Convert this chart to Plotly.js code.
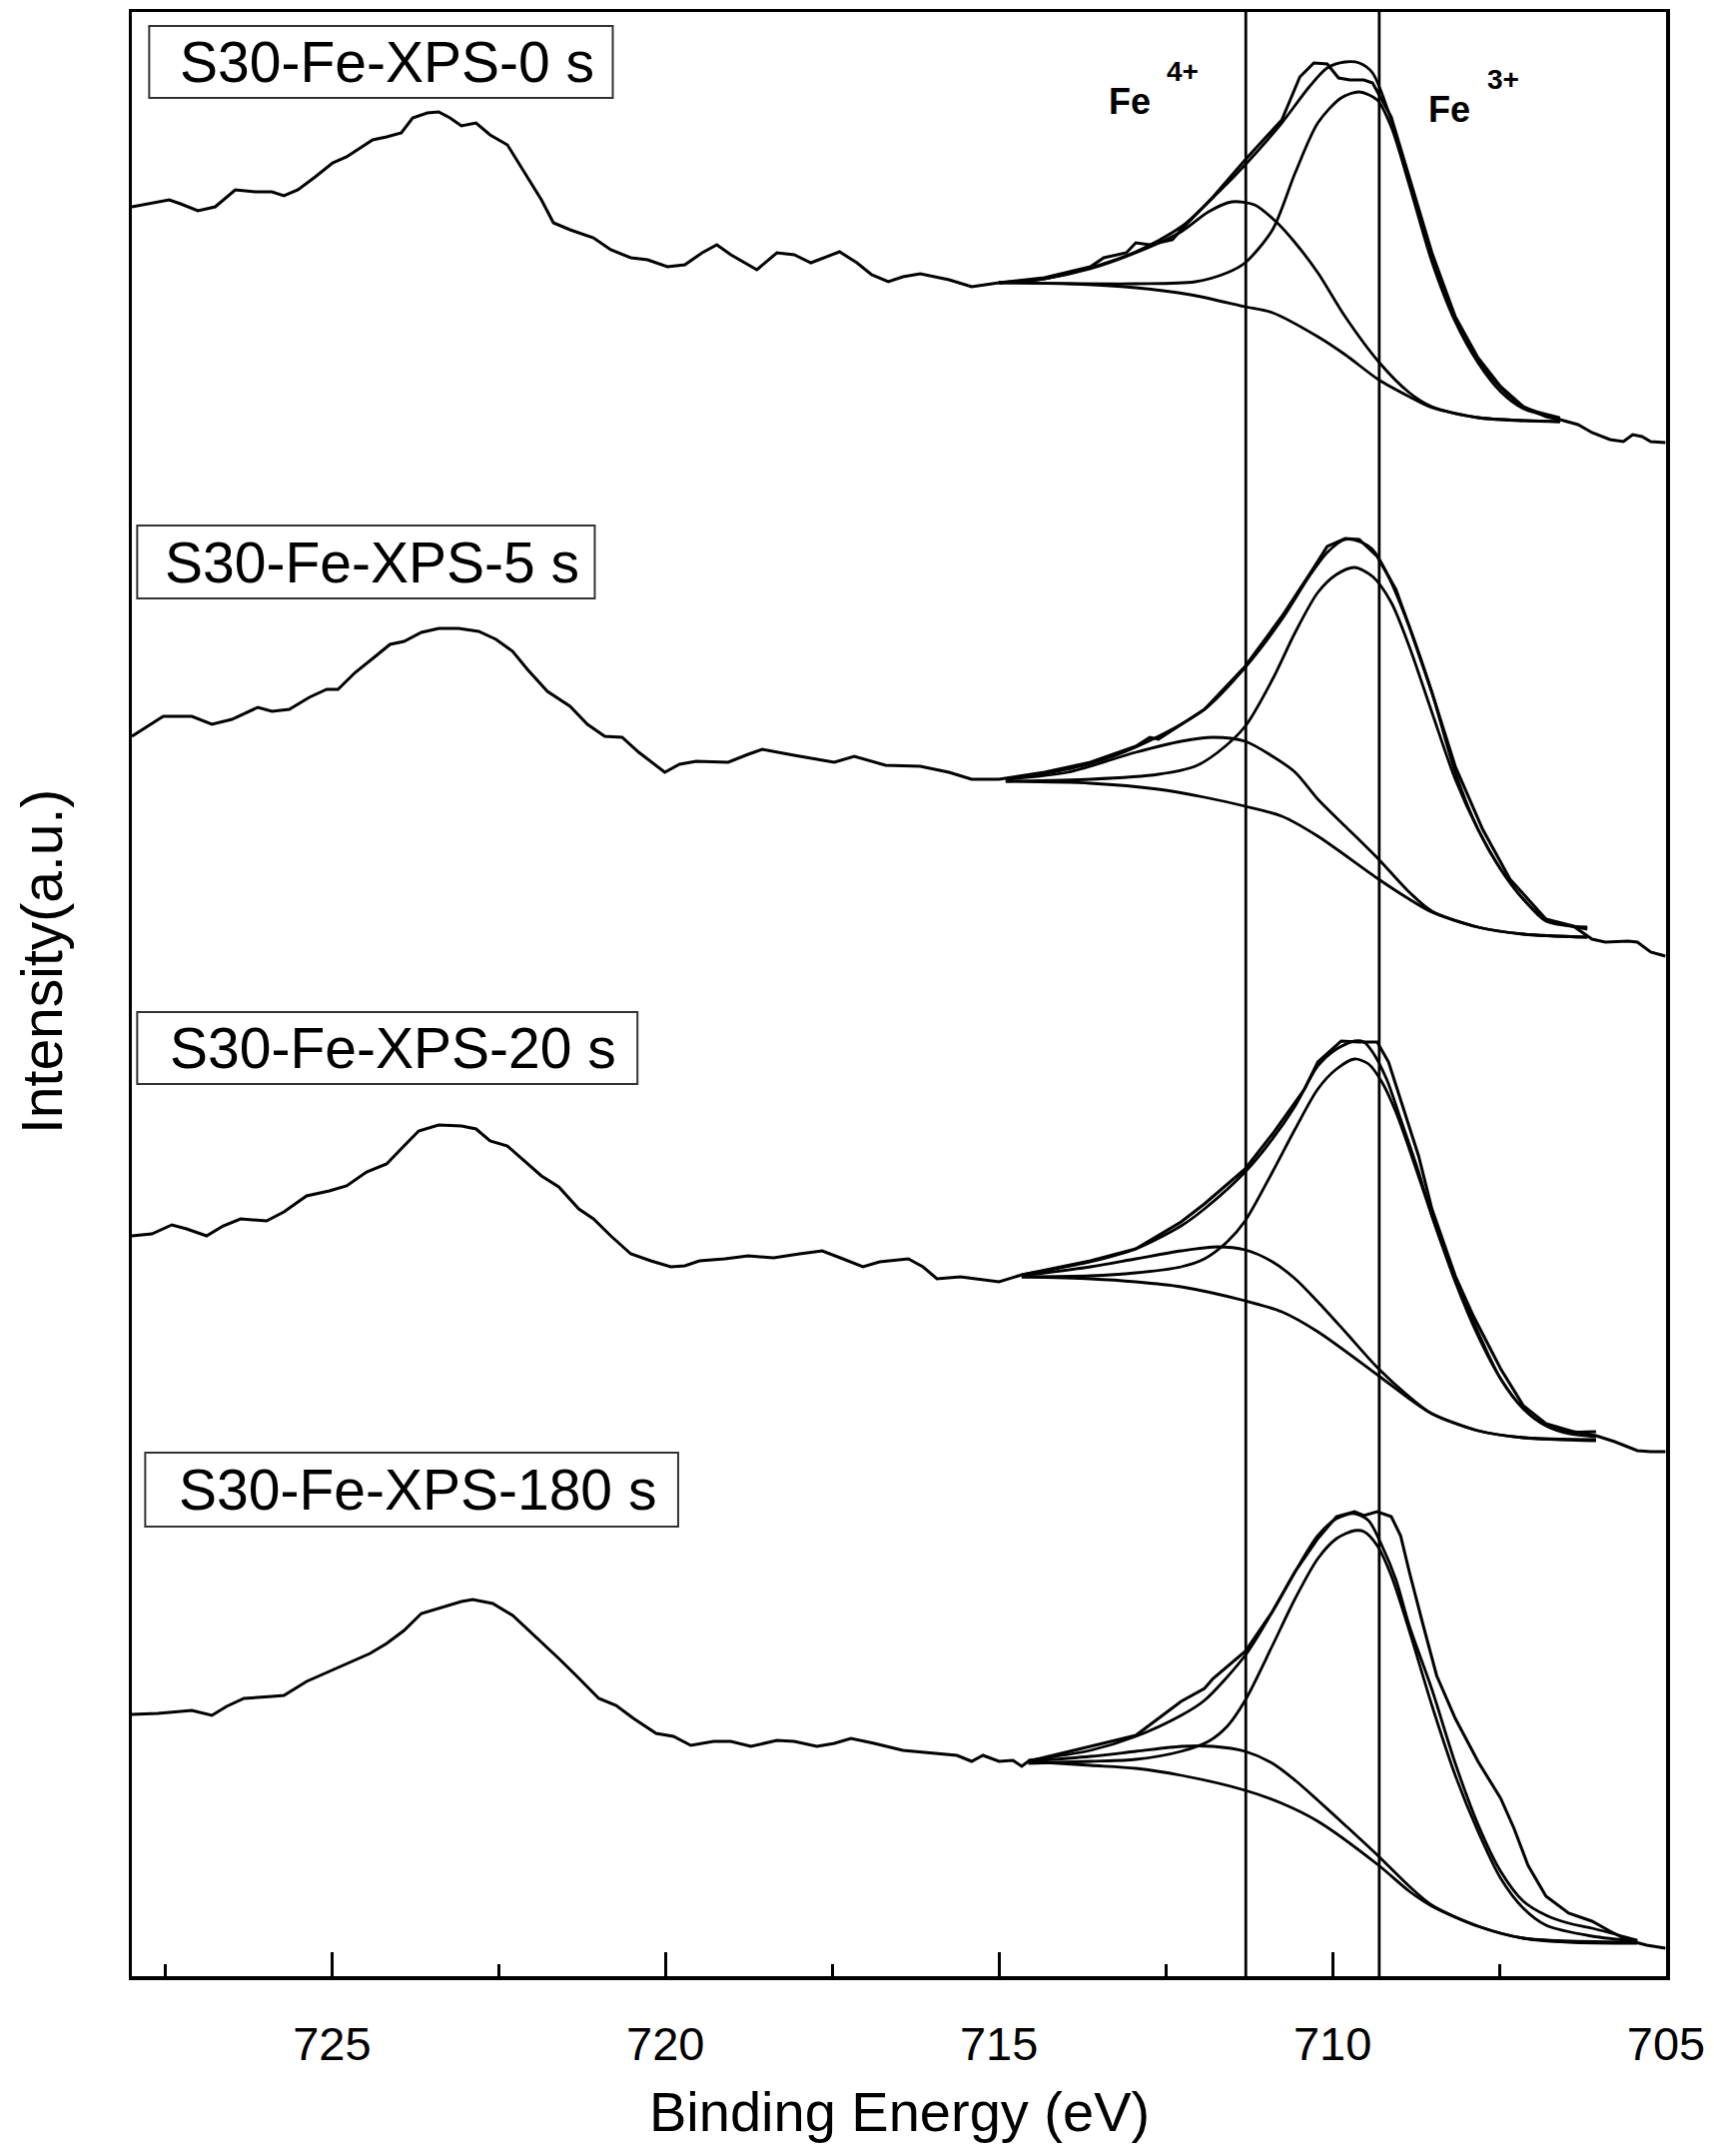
<!DOCTYPE html>
<html>
<head>
<meta charset="utf-8">
<script src="https://cdn.plot.ly/plotly-3.0.1.min.js"></script>
<style>html,body{margin:0;padding:0;background:#fff;}#chart{width:1716px;height:2158px;}</style>
</head>
<body>
<div id="chart"></div>
<script>
// ---------- axis / labels ----------
const tickVals = [725, 720, 715, 710, 705];
const tickText = ['725', '720', '715', '710', '705'];
const minorTickVals = [727.5, 722.5, 717.5, 712.5, 707.5];
const feLines = [711.3, 709.3];
const sampleNames = ['S30-Fe-XPS-0 s', 'S30-Fe-XPS-5 s', 'S30-Fe-XPS-20 s', 'S30-Fe-XPS-180 s'];

// ---------- S30-Fe-XPS-0 s ----------
const s0RawE = [728.00,727.70,727.44,727.27,727.01,726.75,726.63,726.45,726.15,725.90,725.72,725.51,725.25,724.99,724.78,724.39,724.18,723.96,723.79,723.57,723.40,723.23,723.06,722.84,722.63,722.37,722.11,721.86,721.68,721.43,721.08,720.82,720.52,720.27,719.97,719.71,719.45,719.23,719.02,718.63,718.33,718.07,717.82,717.39,717.13,716.91,716.66,716.44,716.18,715.75,715.41,715.00,714.32,713.63,713.43,713.09,712.95,712.74,712.40,712.27,711.79,711.31,710.76,710.49,710.28,710.08,709.91,709.74,709.53,709.40,709.12,708.85,708.51,708.16,707.82,707.48,707.14,706.80,706.59,706.32,706.11,705.84,705.64,705.50,705.36,705.23,705.01];
const s0RawI = [1771,1775,1778,1774,1767,1771,1778,1788,1786,1786,1782,1788,1801,1815,1821,1838,1841,1845,1860,1865,1866,1860,1852,1855,1843,1833,1805,1778,1755,1748,1740,1728,1720,1718,1711,1713,1725,1733,1723,1708,1725,1723,1715,1726,1715,1703,1696,1701,1704,1698,1691,1695,1700,1711,1720,1725,1735,1733,1738,1748,1781,1818,1858,1901,1915,1914,1900,1898,1898,1895,1861,1801,1725,1661,1620,1591,1571,1561,1558,1553,1545,1538,1536,1543,1541,1536,1535];
const s0EnvE = [715.00,714.32,713.63,712.95,712.27,711.72,711.31,710.76,710.35,710.08,709.81,709.60,709.40,709.12,708.85,708.51,708.16,707.82,707.48,707.14,706.59];
const s0EnvI = [1695,1699,1710,1726,1751,1785,1813,1855,1891,1910,1916,1915,1905,1858,1798,1721,1660,1618,1590,1571,1560];
const s0Fe3E = [715.00,712.95,712.06,711.58,711.31,710.90,710.56,710.22,709.87,709.60,709.33,709.12,708.85,708.51,708.16,707.82,707.48,707.14,706.59];
const s0Fe3I = [1695,1694,1696,1705,1715,1748,1805,1855,1880,1886,1878,1851,1793,1716,1656,1615,1586,1569,1559];
const s0Fe4E = [715.00,714.32,713.63,712.95,712.27,711.86,711.51,711.17,710.83,710.56,710.22,709.81,709.31,708.85,708.51,707.82,706.59];
const s0Fe4I = [1695,1699,1709,1725,1746,1766,1776,1773,1755,1735,1705,1661,1616,1585,1571,1560,1556];
const s0BgE = [715.00,713.97,712.95,712.13,711.31,710.90,710.22,709.81,709.31,708.85,708.51,707.82,707.14,706.59];
const s0BgI = [1695,1694,1690,1683,1671,1665,1641,1623,1598,1581,1570,1560,1557,1556];

// ---------- S30-Fe-XPS-5 s ----------
const s1RawE = [728.00,727.83,727.53,727.10,726.80,726.50,726.11,725.90,725.64,725.34,725.08,724.91,724.65,724.35,724.13,723.92,723.66,723.40,723.10,722.80,722.54,722.29,722.07,721.77,721.43,721.17,720.91,720.65,720.40,720.01,719.79,719.54,719.06,718.76,718.55,718.07,717.47,717.17,716.70,716.18,715.75,715.41,715.00,714.32,713.63,712.95,712.74,712.61,711.92,711.31,710.76,710.28,710.08,709.81,709.60,709.33,709.05,708.85,708.51,708.16,707.75,707.34,706.80,706.39,706.11,705.91,705.57,705.43,705.23,705.01];
const s1RawI = [1241,1248,1261,1261,1253,1258,1270,1266,1268,1280,1288,1288,1305,1321,1333,1336,1345,1349,1349,1346,1338,1326,1308,1286,1271,1253,1241,1240,1225,1205,1213,1216,1215,1223,1228,1222,1215,1221,1212,1211,1205,1198,1198,1205,1215,1231,1240,1238,1268,1311,1361,1410,1431,1439,1438,1421,1388,1351,1285,1211,1148,1098,1058,1051,1038,1035,1036,1035,1025,1021];
const s1EnvE = [714.90,713.97,713.29,712.61,711.92,711.31,710.76,710.35,710.08,709.81,709.60,709.40,709.19,708.85,708.51,708.16,707.82,707.48,707.14,706.80,706.18];
const s1EnvI = [1198,1208,1221,1241,1268,1310,1358,1401,1425,1438,1436,1428,1405,1351,1285,1205,1148,1108,1078,1056,1050];
const s1Fe3E = [714.90,713.63,712.61,712.06,711.72,711.31,710.90,710.56,710.22,709.94,709.67,709.40,709.12,708.85,708.51,708.16,707.82,707.48,707.14,706.80,706.18];
const s1Fe3I = [1196,1198,1203,1211,1225,1251,1298,1345,1385,1403,1410,1401,1375,1331,1265,1198,1148,1108,1078,1058,1048];
const s1Fe4E = [714.90,713.97,712.95,712.27,711.79,711.31,710.90,710.56,710.22,709.81,709.31,708.85,708.51,707.82,707.14,706.18];
const s1Fe4I = [1198,1205,1225,1236,1240,1236,1221,1205,1178,1151,1118,1085,1066,1050,1043,1040];
const s1BgE = [714.90,713.63,712.61,711.92,711.31,710.76,710.22,709.31,708.85,708.51,707.82,707.14,706.18];
const s1BgI = [1196,1194,1188,1180,1171,1161,1141,1098,1078,1065,1050,1043,1040];

// ---------- S30-Fe-XPS-20 s ----------
const s2RawE = [728.00,727.70,727.40,727.18,726.88,726.63,726.37,725.98,725.72,725.38,725.04,724.78,724.48,724.18,723.92,723.70,723.40,723.06,722.84,722.63,722.37,722.11,721.86,721.60,721.30,721.08,720.82,720.52,720.22,719.92,719.71,719.49,719.11,718.76,718.38,717.99,717.65,717.34,717.04,716.79,716.36,716.14,715.93,715.58,715.32,715.00,714.66,713.97,713.63,712.95,712.27,711.92,711.31,710.90,710.42,710.22,709.87,709.60,709.33,709.16,708.98,708.71,708.51,708.16,707.89,707.48,707.14,706.80,706.39,706.05,705.77,705.43,705.23,705.01];
const s2RawI = [741,743,752,748,741,751,758,756,765,781,786,791,805,813,831,846,852,851,848,836,831,816,801,790,768,758,741,723,716,710,711,716,718,721,719,723,726,718,710,715,718,710,698,700,698,695,702,711,716,728,755,773,808,843,888,915,936,935,935,915,878,821,768,701,661,608,571,553,545,541,535,526,525,525];
const s2EnvE = [714.66,713.63,712.95,712.27,711.92,711.31,710.90,710.56,710.22,709.94,709.67,709.53,709.40,709.19,708.98,708.71,708.51,708.16,707.82,707.48,707.14,706.80,706.46,706.05];
const s2EnvI = [702,715,728,751,768,805,838,871,911,928,936,935,925,898,858,805,761,698,645,598,568,551,545,545];
const s2Fe3E = [714.66,713.63,712.95,712.27,711.92,711.58,711.31,710.90,710.56,710.22,709.94,709.67,709.46,709.26,709.05,708.85,708.51,708.16,707.82,707.48,707.14,706.80,706.46,706.05];
const s2Fe3I = [700,701,704,710,718,735,756,805,848,888,908,918,913,895,865,828,761,695,641,598,568,551,543,540];
const s2Fe4E = [714.66,713.63,712.95,712.27,711.72,711.31,710.90,710.56,710.22,709.81,709.31,708.85,708.51,707.82,707.14,706.05];
const s2Fe4I = [701,710,718,726,730,727,715,698,675,645,608,580,563,546,539,537];
const s2BgE = [714.66,713.63,712.95,712.27,711.31,710.76,710.22,709.31,708.85,708.51,707.82,707.14,706.05];
const s2BgI = [700,698,695,690,676,665,645,601,578,563,546,539,536];

// ---------- S30-Fe-XPS-180 s ----------
const s3RawE = [728.00,727.61,727.10,726.80,726.58,726.32,725.90,725.72,725.38,725.04,724.69,724.43,724.18,723.92,723.66,723.32,723.06,722.89,722.59,722.29,722.03,721.77,721.60,721.34,721.00,720.74,720.48,720.14,719.88,719.62,719.28,719.02,718.72,718.33,718.07,717.73,717.47,717.22,716.87,716.44,716.01,715.63,715.41,715.24,715.00,714.79,714.66,714.56,713.63,713.15,712.95,712.27,711.92,711.79,711.31,710.90,710.56,710.22,709.94,709.67,709.53,709.33,709.12,708.98,708.85,708.64,708.44,708.16,707.82,707.48,707.28,707.07,706.80,706.46,706.11,705.84,705.57,705.29,705.01];
const s3RawI = [262,263,266,261,270,278,280,281,295,305,316,323,333,346,363,370,375,377,373,361,345,328,318,301,278,271,258,243,240,231,235,235,230,236,235,230,233,238,233,226,223,221,215,221,215,216,210,215,230,238,241,275,288,298,325,365,405,438,460,465,461,465,460,441,405,351,301,258,215,178,148,111,80,63,55,45,36,31,28];
const s3EnvE = [714.56,713.63,712.95,712.27,711.92,711.31,710.90,710.56,710.22,709.94,709.67,709.46,709.26,709.05,708.85,708.51,708.16,707.82,707.48,707.14,706.80,706.46,706.11,705.43];
const s3EnvI = [216,226,240,261,276,321,365,405,441,458,463,456,431,397,351,287,213,152,105,75,61,53,48,36];
const s3Fe3E = [714.56,713.63,712.95,712.27,711.86,711.58,711.31,710.90,710.56,710.22,709.94,709.67,709.53,709.33,709.12,708.85,708.51,708.16,707.82,707.48,707.14,706.80,706.11,705.43];
const s3Fe3I = [213,215,217,225,235,250,276,331,378,418,438,446,445,431,401,346,271,201,145,98,68,51,40,35];
const s3Fe4E = [714.56,713.63,712.95,712.27,711.79,711.31,710.90,710.56,710.22,709.81,709.31,708.85,708.51,707.82,707.14,705.43];
const s3Fe4I = [215,220,225,230,230,225,213,196,176,151,120,90,71,50,38,34];
const s3BgE = [714.56,713.63,712.95,712.27,711.31,710.76,710.22,709.31,708.85,708.51,707.82,707.14,706.46,705.43];
const s3BgI = [215,211,208,201,186,173,155,111,85,70,50,38,34,33];

// ---------- build traces ----------
const spectra = [
  {raw:[s0RawE,s0RawI], env:[s0EnvE,s0EnvI], fe3:[s0Fe3E,s0Fe3I], fe4:[s0Fe4E,s0Fe4I], bg:[s0BgE,s0BgI]},
  {raw:[s1RawE,s1RawI], env:[s1EnvE,s1EnvI], fe3:[s1Fe3E,s1Fe3I], fe4:[s1Fe4E,s1Fe4I], bg:[s1BgE,s1BgI]},
  {raw:[s2RawE,s2RawI], env:[s2EnvE,s2EnvI], fe3:[s2Fe3E,s2Fe3I], fe4:[s2Fe4E,s2Fe4I], bg:[s2BgE,s2BgI]},
  {raw:[s3RawE,s3RawI], env:[s3EnvE,s3EnvI], fe3:[s3Fe3E,s3Fe3I], fe4:[s3Fe4E,s3Fe4I], bg:[s3BgE,s3BgI]}
];
const traces = [];
spectra.forEach((s, i) => {
  ['bg', 'fe4', 'fe3', 'env'].forEach(k => {
    traces.push({x: s[k][0], y: s[k][1], type: 'scatter', mode: 'lines',
      line: {color: '#000', width: 2.8, shape: 'spline', smoothing: 0.8},
      name: sampleNames[i] + ' ' + k, showlegend: false, hoverinfo: 'skip'});
  });
  traces.push({x: s.raw[0], y: s.raw[1], type: 'scatter', mode: 'lines',
    line: {color: '#000', width: 3}, name: sampleNames[i], showlegend: false});
});

// ---------- layout helpers (positions only) ----------
const boxes = [
  {x0: 727.74, x1: 720.79, y0: 1880, y1: 1952, tx: 724.18, ty: 1916},
  {x0: 727.92, x1: 721.06, y0: 1379, y1: 1452, tx: 724.40, ty: 1415},
  {x0: 727.92, x1: 720.42, y0: 893, y1: 965, tx: 724.08, ty: 929},
  {x0: 727.80, x1: 719.81, y0: 450, y1: 524, tx: 723.72, ty: 487}
];
const FONT = 'Liberation Sans, Arial, sans-serif';
const shapes = [];
const annotations = [];
feLines.forEach(v => shapes.push({type: 'line', xref: 'x', yref: 'paper', x0: v, x1: v, y0: 0, y1: 1,
  line: {color: '#000', width: 2.8}}));
boxes.forEach((b, i) => {
  shapes.push({type: 'rect', xref: 'x', yref: 'y', x0: b.x0, x1: b.x1, y0: b.y0, y1: b.y1,
    line: {color: '#333', width: 2}, fillcolor: 'rgba(255,255,255,0)'});
  annotations.push({xref: 'x', yref: 'y', x: b.tx, y: b.ty, text: sampleNames[i], showarrow: false,
    xanchor: 'center', yanchor: 'middle', font: {family: FONT, size: 57, color: '#000'}});
});
annotations.push({xref: 'x', yref: 'y', x: 713.38, y: 1877, text: '<b>Fe</b>', showarrow: false, xanchor: 'left', yanchor: 'middle',
  font: {family: FONT, size: 36, color: '#000'}});
annotations.push({xref: 'x', yref: 'y', x: 712.52, y: 1907, text: '<b>4+</b>', showarrow: false, xanchor: 'left', yanchor: 'middle',
  font: {family: FONT, size: 28, color: '#000'}});
annotations.push({xref: 'x', yref: 'y', x: 708.60, y: 1869, text: '<b>Fe</b>', showarrow: false, xanchor: 'left', yanchor: 'middle',
  font: {family: FONT, size: 36, color: '#000'}});
annotations.push({xref: 'x', yref: 'y', x: 707.71, y: 1899, text: '<b>3+</b>', showarrow: false, xanchor: 'left', yanchor: 'middle',
  font: {family: FONT, size: 28, color: '#000'}});
annotations.push({xref: 'paper', yref: 'paper', x: -0.0586, y: 0.5168, text: 'Intensity(a.u.)', textangle: -90,
  showarrow: false, xanchor: 'center', yanchor: 'middle', font: {family: FONT, size: 57, color: '#000'}});
annotations.push({xref: 'paper', yref: 'paper', x: 0.5, y: -0.0687, text: 'Binding Energy (eV)',
  showarrow: false, xanchor: 'center', yanchor: 'middle', font: {family: FONT, size: 56, color: '#000'}});

const layout = {
  width: 1716, height: 2158, autosize: false,
  margin: {l: 132, r: 48, t: 12, b: 180, pad: 0},
  paper_bgcolor: '#fff', plot_bgcolor: '#fff',
  showlegend: false,
  xaxis: {
    range: [728, 705], showgrid: false, zeroline: false,
    showline: true, mirror: true, linecolor: '#000', linewidth: 3.5,
    ticks: 'inside', ticklen: 24, tickwidth: 3, tickcolor: '#000',
    tickmode: 'array', tickvals: tickVals, ticktext: tickText,
    ticklabelstandoff: 24,
    tickfont: {family: FONT, size: 47, color: '#000'},
    minor: {tickmode: 'array', tickvals: minorTickVals, ticks: 'inside', ticklen: 12, tickwidth: 3, tickcolor: '#000', showgrid: false}
  },
  yaxis: {
    range: [0, 1966], showgrid: false, zeroline: false,
    showline: true, mirror: true, linecolor: '#000', linewidth: 3.5,
    ticks: '', showticklabels: false
  },
  shapes: shapes,
  annotations: annotations
};
Plotly.newPlot('chart', traces, layout, {staticPlot: true, displayModeBar: false});
</script>
</body>
</html>
